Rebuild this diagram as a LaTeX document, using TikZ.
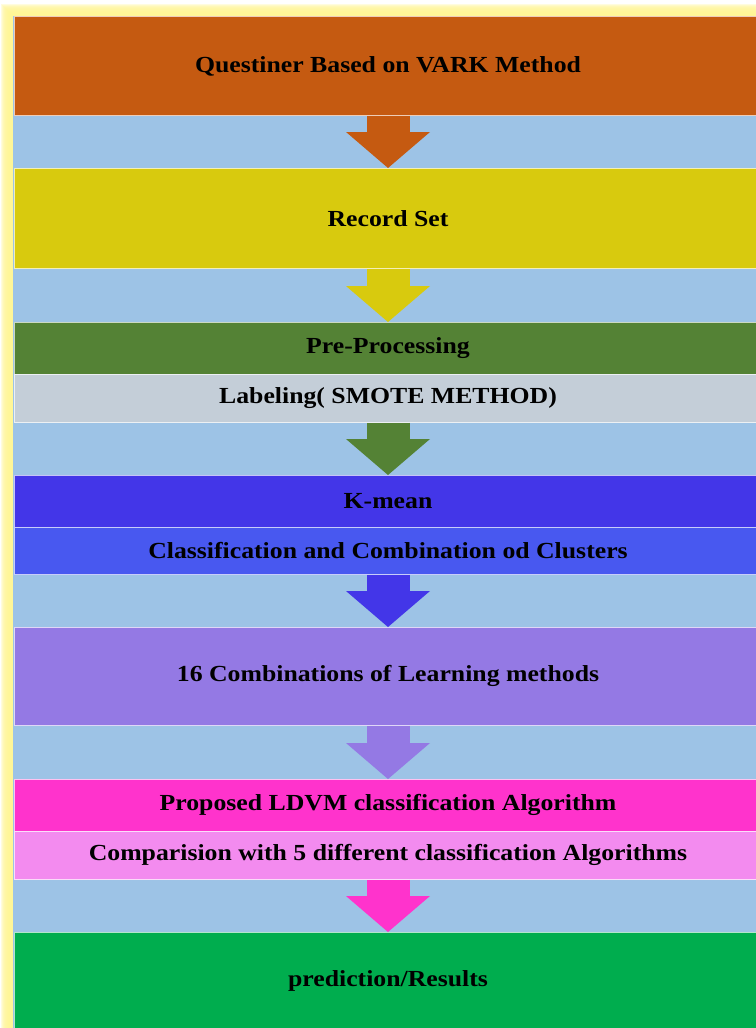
\documentclass[tikz,border=0pt]{standalone}
\usepackage{fontspec}
\setmainfont{Liberation Serif}[FakeStretch=1.12]
\usetikzlibrary{arrows.meta}

\definecolor{bandblue}{RGB}{157,195,230}
\definecolor{glowyellow}{RGB}{255,246,150}
\definecolor{questorange}{RGB}{197,90,17}
\definecolor{recordyellow}{RGB}{216,202,14}
\definecolor{prepgreen}{RGB}{84,130,53}
\definecolor{labelgray}{RGB}{196,206,216}
\definecolor{kmeanblue}{RGB}{67,54,232}
\definecolor{clusterblue}{RGB}{72,88,240}
\definecolor{combpurple}{RGB}{148,121,228}
\definecolor{ldvmmagenta}{RGB}{255,51,204}
\definecolor{comparepink}{RGB}{243,139,239}
\definecolor{resultgreen}{RGB}{0,173,78}

\begin{document}
\begin{tikzpicture}[x=1pt,y=-1pt,
  stagebox/.style={fill=#1, draw=white!70!#1, line width=0.8pt, anchor=north,
    minimum width=748pt, inner sep=0pt,
    font=\fontsize{23}{27}\selectfont\bfseries},
  flowarrow/.style={draw=#1, line width=43pt,
    -{Triangle[width=84pt,length=36pt,line width=0pt]}}]
\useasboundingbox (0,0) rectangle (755,1028);
\fill[white] (0,0) rectangle (755,1028);
% soft yellow frame
\foreach \d in {0,...,9}
  \fill[glowyellow, opacity=0.3] ({1+\d},{4+\d}) rectangle (775,1040);
\fill[bandblue] (13,16) rectangle (765,1040);

\node[stagebox=questorange, minimum height=99pt] (quest) at (388,16) {Questiner Based on VARK Method};
\node[stagebox=recordyellow, minimum height=100pt] (record) at (388,168) {Record Set};
\node[stagebox=prepgreen, minimum height=52pt] (prep) at (388,322) {Pre-Processing};
\node[stagebox=labelgray, minimum height=48pt] (label) at (388,374) {Labeling( SMOTE METHOD)};
\node[stagebox=kmeanblue, minimum height=52pt] (kmean) at (388,475) {K-mean};
\node[stagebox=clusterblue, minimum height=47pt] (cluster) at (388,527) {Classification and Combination od Clusters};
\node[stagebox=combpurple, minimum height=98pt] (comb) at (388,627) {16 Combinations of Learning methods};
\node[stagebox=ldvmmagenta, minimum height=52pt] (ldvm) at (388,779) {Proposed LDVM classification Algorithm};
\node[stagebox=comparepink, minimum height=48pt] (compare) at (388,831) {Comparision with 5 different classification Algorithms};
\node[stagebox=resultgreen, minimum height=97pt] (result) at (388,932) {prediction/Results};

\draw[flowarrow=questorange] (quest.south) -- (record.north);
\draw[flowarrow=recordyellow] (record.south) -- (prep.north);
\draw[flowarrow=prepgreen] (label.south) -- (kmean.north);
\draw[flowarrow=kmeanblue] (cluster.south) -- (comb.north);
\draw[flowarrow=combpurple] (comb.south) -- (ldvm.north);
\draw[flowarrow=ldvmmagenta] (compare.south) -- (result.north);
\end{tikzpicture}
\end{document}
